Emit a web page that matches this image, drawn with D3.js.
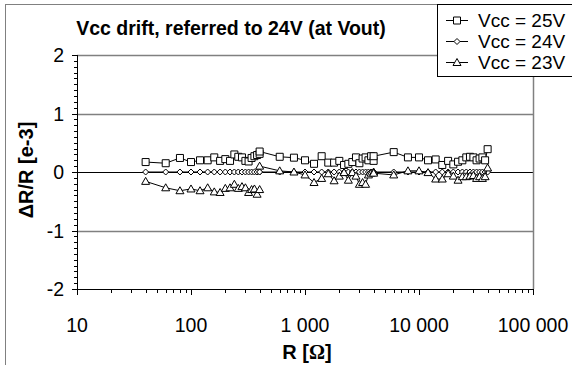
<!DOCTYPE html>
<html>
<head>
<meta charset="utf-8">
<script src="https://cdn.jsdelivr.net/npm/d3@7"></script>
<style>
  html, body { margin: 0; padding: 0; background: #fff; }
  svg { display: block; font-family: "Liberation Sans", Arial, sans-serif; }
</style>
</head>
<body>
<svg width="572" height="365"></svg>
<script>
// resistance steps of the three measuring ranges (ohm)
const resistance = [
  40, 60, 80, 100, 120, 140, 160, 180, 200, 220, 240, 260, 280, 300, 320, 340, 360, 380, 400,
  400, 600, 800, 1000, 1200, 1400, 1600, 1800, 2000, 2200, 2400, 2600, 2800, 3000, 3200, 3400, 3600, 3800, 4000,
  4000, 6000, 8000, 10000, 12000, 14000, 16000, 18000, 20000, 22000, 24000, 26000, 28000, 30000, 32000, 34000, 36000, 38000, 40000
];
const vcc25 = [
  0.17, 0.15, 0.24, 0.17, 0.20, 0.20, 0.25, 0.19, 0.22, 0.19, 0.30, 0.26, 0.25, 0.19, 0.18, 0.24, 0.27, 0.29, 0.31,
  0.35, 0.26, 0.245, 0.20, 0.14, 0.27, 0.16, 0.16, 0.19, 0.12, 0.14, 0.17, 0.25, 0.15, 0.23, 0.25, 0.20, 0.27, 0.19,
  0.27, 0.34, 0.25, 0.25, 0.20, 0.215, 0.12, 0.19, 0.13, 0.175, 0.20, 0.25, 0.26, 0.25, 0.20, 0.23, 0.25, 0.20, 0.39
];
const vcc24 = [
  0, 0, 0, 0, 0, 0, 0, 0, 0, 0, 0, 0, 0, 0, 0, 0, 0, 0, 0,
  0, 0, 0, 0, 0, 0, 0, 0, 0, 0, 0, 0, 0, 0, 0, 0, 0, 0, 0,
  0, 0, 0, 0, 0, 0, 0, 0, 0, 0, 0, 0, 0, 0, 0, 0, 0, 0, 0
];
const vcc23 = [
  -0.16, -0.27, -0.32, -0.29, -0.32, -0.27, -0.34, -0.35, -0.28, -0.27, -0.21, -0.28, -0.25, -0.27, -0.35, -0.30, -0.29, -0.38, -0.30,
  0.10, 0.02, 0.00, -0.05, -0.18, -0.11, -0.03, -0.15, -0.07, -0.01, -0.14, -0.01, -0.07, -0.21, -0.18, -0.21, -0.05, -0.02, 0.00,
  -0.02, -0.05, 0.02, 0.02, -0.01, -0.12, -0.12, -0.03, -0.07, -0.14, -0.08, -0.08, -0.07, -0.06, -0.11, -0.08, -0.11, -0.08, 0.07
];
const vcc23Break = 18; // no line between range 1 and range 2

const yTicks = [-2, -1, 0, 1, 2];
const xTicks = [10, 100, 1000, 10000, 100000];
const xTickLabels = ["10", "100", "1 000", "10 000", "100 000"];
const legendLabels = ["Vcc = 25V", "Vcc = 24V", "Vcc = 23V"];

const svg = d3.select("svg");
const width = +svg.attr("width");
const height = +svg.attr("height");

const plot = { left: 77, right: 533, top: 55, bottom: 289 };

const x = d3.scaleLog().domain([10, 100000]).range([plot.left, plot.right]);
const y = d3.scaleLinear().domain([-2, 2]).range([plot.bottom, plot.top]);

// outer chart frame
svg.append("rect")
  .attr("x", 5.5).attr("y", 4.5)
  .attr("width", width + 20).attr("height", height + 20)
  .attr("fill", "none").attr("stroke", "#808080");

// title
svg.append("text")
  .attr("x", 231).attr("y", 35)
  .attr("text-anchor", "middle")
  .attr("font-weight", "bold").attr("font-size", 19.5)
  .text("Vcc drift, referred to 24V (at Vout)");

// gridlines
svg.append("g").selectAll("line")
  .data(yTicks.filter(d => d !== -2))
  .join("line")
  .attr("x1", plot.left).attr("x2", plot.right)
  .attr("y1", d => Math.round(y(d)) + 0.5).attr("y2", d => Math.round(y(d)) + 0.5)
  .attr("stroke", d => d === 0 ? "#000" : "#808080")
  .attr("stroke-width", d => d === 0 ? 1 : 1.5);

// right border of plot area
svg.append("line")
  .attr("x1", plot.right + 0.5).attr("x2", plot.right + 0.5)
  .attr("y1", plot.top).attr("y2", plot.bottom)
  .attr("stroke", "#808080").attr("stroke-width", 1.5);

// y axis
const yMinor = d3.range(-20, 21).map(d => d / 10);
const gy = svg.append("g");
gy.append("line")
  .attr("x1", plot.left + 0.5).attr("x2", plot.left + 0.5)
  .attr("y1", plot.top).attr("y2", plot.bottom)
  .attr("stroke", "#000");
gy.selectAll("line.minor")
  .data(yMinor)
  .join("line").attr("class", "minor")
  .attr("x1", plot.left - 3).attr("x2", plot.left)
  .attr("y1", d => Math.round(y(d)) + 0.5).attr("y2", d => Math.round(y(d)) + 0.5)
  .attr("stroke", "#000");
gy.selectAll("line.major")
  .data(yTicks)
  .join("line").attr("class", "major")
  .attr("x1", plot.left - 5).attr("x2", plot.left)
  .attr("y1", d => Math.round(y(d)) + 0.5).attr("y2", d => Math.round(y(d)) + 0.5)
  .attr("stroke", "#000");
gy.selectAll("text")
  .data(yTicks)
  .join("text")
  .attr("x", 64).attr("y", d => y(d))
  .attr("dy", "0.36em")
  .attr("text-anchor", "end")
  .attr("font-size", 19.5)
  .text(d => d);

// x axis
const xMinor = [];
for (let e = 10; e < 100000; e *= 10) for (let k = 2; k < 10; k++) xMinor.push(e * k);
const gx = svg.append("g");
gx.append("line")
  .attr("x1", plot.left).attr("x2", plot.right + 1)
  .attr("y1", plot.bottom + 0.5).attr("y2", plot.bottom + 0.5)
  .attr("stroke", "#000");
gx.selectAll("line.minor")
  .data(xMinor)
  .join("line").attr("class", "minor")
  .attr("x1", d => Math.round(x(d)) + 0.5).attr("x2", d => Math.round(x(d)) + 0.5)
  .attr("y1", plot.bottom).attr("y2", plot.bottom + 4)
  .attr("stroke", "#000");
gx.selectAll("line.major")
  .data(xTicks)
  .join("line").attr("class", "major")
  .attr("x1", d => Math.round(x(d)) + 0.5).attr("x2", d => Math.round(x(d)) + 0.5)
  .attr("y1", plot.bottom).attr("y2", plot.bottom + 6)
  .attr("stroke", "#000");
gx.selectAll("text")
  .data(xTicks)
  .join("text")
  .attr("x", d => x(d)).attr("y", 332)
  .attr("text-anchor", "middle")
  .attr("font-size", 19.5)
  .text((d, i) => xTickLabels[i]);

// axis titles
svg.append("text")
  .attr("transform", "translate(33,170) rotate(-90)")
  .attr("text-anchor", "middle")
  .attr("font-weight", "bold").attr("font-size", 20)
  .text("ΔR/R [e-3]");

const xt = svg.append("text")
  .attr("x", 307).attr("y", 359)
  .attr("text-anchor", "middle")
  .attr("font-weight", "bold").attr("font-size", 20);
xt.append("tspan").text("R [");
xt.append("tspan").attr("font-family", "'Liberation Serif', 'Times New Roman', serif").text("Ω");
xt.append("tspan").text("]");

// markers
const square = d3.symbol().type(d3.symbolSquare).size(49);
const diamond = "M0,-3L3,0L0,3L-3,0Z";
const triangle = "M0,-4L4,3L-4,3Z";

const series = [
  { label: legendLabels[0], values: vcc25, marker: square(), breakAt: -1 },
  { label: legendLabels[1], values: vcc24, marker: diamond, breakAt: -1 },
  { label: legendLabels[2], values: vcc23, marker: triangle, breakAt: vcc23Break }
];

const line = d3.line()
  .x(d => x(d.r))
  .y(d => y(d.v));

series.forEach(s => {
  const pts = resistance.map((r, i) => ({ r, v: s.values[i], i }));
  const parts = s.breakAt >= 0
    ? [pts.slice(0, s.breakAt + 1), pts.slice(s.breakAt + 1)]
    : [pts];
  const g = svg.append("g");
  parts.forEach(p => {
    g.append("path")
      .attr("d", line(p))
      .attr("fill", "none").attr("stroke", "#000").attr("stroke-width", 1);
  });
  g.selectAll("path.mk")
    .data(pts)
    .join("path").attr("class", "mk")
    .attr("transform", d => `translate(${x(d.r)},${y(d.v)})`)
    .attr("d", s.marker)
    .attr("fill", "#fff").attr("stroke", "#000").attr("stroke-width", 1);
});

// legend
const lg = svg.append("g");
lg.append("rect")
  .attr("x", 437.5).attr("y", 4.5)
  .attr("width", 200).attr("height", 72)
  .attr("fill", "#fff").attr("stroke", "#000");
const rows = lg.selectAll("g")
  .data(series)
  .join("g")
  .attr("transform", (d, i) => `translate(0,${20 + i * 21})`);
rows.append("line")
  .attr("x1", 446).attr("x2", 468).attr("y1", 0.5).attr("y2", 0.5)
  .attr("stroke", "#000");
rows.append("path")
  .attr("transform", "translate(457,0.5)")
  .attr("d", d => d.marker)
  .attr("fill", "#fff").attr("stroke", "#000");
rows.append("text")
  .attr("x", 478).attr("y", 0)
  .attr("dy", "0.36em")
  .attr("font-size", 19)
  .text(d => d.label);
</script>
</body>
</html>
